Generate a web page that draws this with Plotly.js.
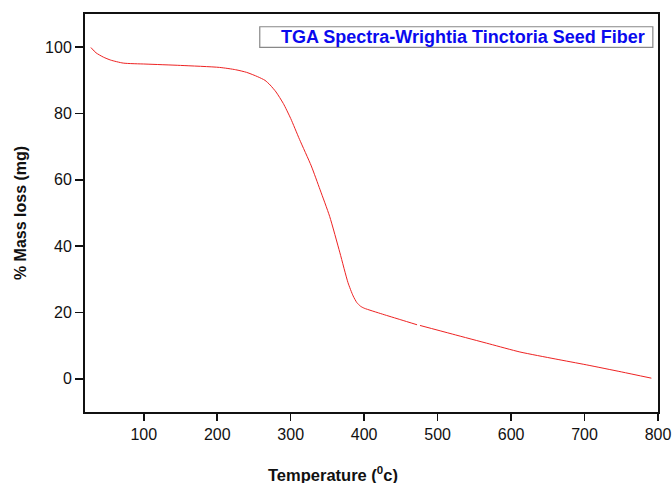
<!DOCTYPE html>
<html>
<head>
<meta charset="utf-8">
<script src="https://cdn.plot.ly/plotly-3.0.1.min.js"></script>
<style>html,body{margin:0;padding:0;background:#fff;}#chart{width:672px;height:483px;}</style>
</head>
<body>
<div id="chart"></div>
<script>
const temperature = [28, 35, 45, 55, 72, 103, 150, 203, 225, 240, 255, 265, 272, 280, 290, 300, 312, 328, 340, 353, 367, 378, 385, 390, 395, 400, 425, 450, 472, null, 476, 520, 571, 612, 660, 703, 750, 791];
const massLoss =    [99.9, 98.3, 97.0, 96.1, 95.2, 94.9, 94.5, 93.9, 93.2, 92.4, 91.1, 90.0, 88.6, 86.5, 83.0, 78.5, 72.2, 64.2, 57.0, 49.0, 38.0, 29.0, 25.0, 23.0, 21.9, 21.3, 19.5, 17.8, 16.3, null, 16.1, 13.5, 10.5, 8.1, 6.0, 4.2, 2.1, 0.2];
const xTicks = [100, 200, 300, 400, 500, 600, 700, 800];
const yTicks = [0, 20, 40, 60, 80, 100];
const seriesName = 'TGA Spectra-Wrightia Tinctoria Seed Fiber';

const trace = {
  x: temperature, y: massLoss, type: 'scatter', mode: 'lines',
  line: {color: '#ee2222', width: 1, shape: 'spline', smoothing: 0.6},
  connectgaps: false, showlegend: false, name: seriesName
};
const FAM = 'Arial, Liberation Sans, sans-serif';
const axisFont = {family: FAM, size: 16, color: '#111'};
const layout = {
  width: 672, height: 483,
  margin: {l: 85, r: 14, t: 14, b: 71},
  paper_bgcolor: '#fff', plot_bgcolor: '#fff',
  font: axisFont,
  xaxis: {
    range: [20, 800], tickvals: xTicks, ticks: 'outside', ticklen: 7, tickwidth: 1.5, tickcolor: '#111',
    showline: true, linecolor: '#111', linewidth: 2, mirror: true, showgrid: false, zeroline: false,
    tickfont: axisFont
  },
  yaxis: {
    range: [-10, 110], tickvals: yTicks, ticks: 'outside', ticklen: 8, tickwidth: 1.5, tickcolor: '#111',
    showline: true, linecolor: '#111', linewidth: 2, mirror: true, showgrid: false, zeroline: false,
    tickfont: axisFont,
    title: {text: '<b>% Mass loss (mg)</b>', font: {family: FAM, size: 16, color: '#111'}, standoff: 14}
  },
  shapes: [{
    type: 'rect', xref: 'paper', yref: 'paper', x0: 0.305, x1: 0.991, y0: 0.916, y1: 0.968,
    line: {color: '#888', width: 1.2}, fillcolor: 'rgba(0,0,0,0)'
  }],
  annotations: [
    {xref: 'paper', yref: 'paper', x: 0.338, y: 0.943, xanchor: 'left', yanchor: 'middle', showarrow: false,
     text: '<b>' + seriesName + '</b>', font: {family: FAM, size: 18, color: '#0a0aee'}},
    {xref: 'paper', yref: 'paper', x: 0.433, y: -0.155, xanchor: 'center', yanchor: 'middle', showarrow: false,
     text: '<b>Temperature (<sup>0</sup>c)</b>', font: {family: FAM, size: 16.5, color: '#111'}}
  ]
};
Plotly.newPlot('chart', [trace], layout, {displayModeBar: false, staticPlot: true});
</script>
</body>
</html>
